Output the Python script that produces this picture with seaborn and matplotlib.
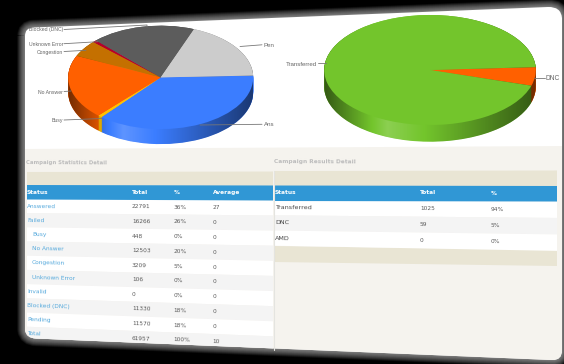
import numpy as np
import matplotlib
matplotlib.use("Agg")
import matplotlib.pyplot as plt
from matplotlib.patches import PathPatch, Polygon
from matplotlib.path import Path
import seaborn as sns

# ---- data ----
call_labels = ["Ans", "Busy", "No Answer", "Congestion", "Unknown Error", "Blocked (DNC)", "Pen"]
call_values = [22791, 448, 12503, 3209, 400, 11330, 11570]
call_colors = ["#3b7dff", "#ffc000", "#ff6000", "#c47000", "#b8002a", "#5c5c5c", "#cccccc"]
result_labels = ["DNC", "Transferred"]
result_values = [59, 1025]
result_colors = ["#ff6000", "#73c52c"]

stat_header = ["Status", "Total", "%", "Average"]
stat_status = ["Answered", "Failed", "Busy", "No Answer", "Congestion", "Unknown Error",
               "Invalid", "Blocked (DNC)", "Pending", "Total"]
stat_total = ["22791", "16266", "448", "12503", "3209", "106", "0", "11330", "11570", "61957"]
stat_pct = ["36%", "26%", "0%", "20%", "5%", "0%", "0%", "18%", "18%", "100%"]
stat_avg = ["27", "0", "0", "0", "0", "0", "0", "0", "0", "10"]
stat_indented = ["Busy", "No Answer", "Congestion", "Unknown Error"]

res_header = ["Status", "Total", "%"]
res_status = ["Transferred", "DNC", "AMD"]
res_total = ["1025", "59", "0"]
res_pct = ["94%", "5%", "0%"]

W, H = 564, 364
sns.set_theme(style="white")
plt.rcParams["font.family"] = ["DejaVu Sans"]
fig = plt.figure(figsize=(W / 100, H / 100), dpi=100, facecolor="black")

base = fig.add_axes([0, 0, 1, 1], zorder=0)
base.set_xlim(0, W); base.set_ylim(H, 0); base.axis("off")
over = fig.add_axes([0, 0, 1, 1], zorder=5)
over.set_xlim(0, W); over.set_ylim(H, 0); over.axis("off"); over.patch.set_alpha(0)

# ---- panel ----
M, L, C = Path.MOVETO, Path.LINETO, Path.CURVE3
verts = [(25, 36), (25, 28), (33, 27.5), (548, 7), (561, 6.5), (562, 18), (562, 350), (562, 360.5), (552, 360),
         (36, 338.5), (26, 338), (25, 330), (25, 36)]
codes = [M, C, C, L, C, C, L, C, C, L, C, C, L]
panel_path = Path(verts, codes)
for w in np.arange(16, 0, -0.5):
    base.add_patch(PathPatch(panel_path, fc="none", ec="white", lw=w * 0.72, alpha=0.022, zorder=1))
panel = PathPatch(panel_path, fc="white", ec="none", zorder=2)
base.add_patch(panel)


def poly(pts, color, z=3):
    p = Polygon(pts, closed=True, fc=color, ec="none", zorder=z)
    base.add_patch(p)
    p.set_clip_path(panel)
    return p


poly([(20, 149), (566, 146), (566, 365), (20, 345)], "#f5f3ee")
# cream bands
poly([(27, 172), (273, 171.5), (273, 186), (27, 185)], "#e9e5d4", 4)
poly([(274, 171), (557, 170.5), (557, 186), (274, 186)], "#e9e5d4", 4)
poly([(274, 246), (557, 250), (557, 266), (274, 262)], "#e9e5d4", 4)

# left table geometry
X0, X1 = 26.0, 216.0


def yleft(x, i):
    a = 206 + 14.2 * i
    b = 207.5 + 14.9 * i
    return a + (x - X0) / (X1 - X0) * (b - a)


def rot_left(i):
    return -np.degrees(np.arctan((1.5 + 0.7 * i) / (X1 - X0)))


for i in range(10):
    c = "white" if i % 2 == 0 else "#f4f4f4"
    poly([(27, yleft(27, i - .5)), (273, yleft(273, i - .5)), (273, yleft(273, i + .5)), (27, yleft(27, i + .5))], c, 4)
poly([(27, 185), (273, 185.5), (273, 200.5), (27, 199.5)], "#3097d5", 5)
base.plot([273.5, 273.5], [171, 350], color="#e4e4e0", lw=0.8, zorder=6)

RX0, RX1 = 275.0, 498.0


def yright(x, i):
    a = 207.7 + 15.2 * i
    b = 209.3 + 16.2 * i
    return a + (x - RX0) / (RX1 - RX0) * (b - a)


for i in range(3):
    c = "white" if i % 2 == 0 else "#f4f4f4"
    poly([(274, yright(275, i - .5)), (557, yright(557, i - .5)), (557, yright(557, i + .5)), (274, yright(275, i + .5))], c, 4)
poly([(274, 185.5), (557, 186), (557, 201.5), (274, 201)], "#3097d5", 5)

FS = 4.2
TXT = "#5a5a5a"
LINK = "#55a9dc"
kw = dict(va="center", ha="left", rotation_mode="anchor", zorder=7, fontsize=FS)

for x, t, y in zip([27, 132, 174, 213], stat_header, [192, 192, 192.3, 192.6]):
    over.text(x, y, t, color="white", fontweight="bold", **kw)
for x, t, y in zip([275, 420, 491], res_header, [192.5, 193, 193.2]):
    over.text(x, y, t, color="white", fontweight="bold", **kw)

for i, (s, t, p, a) in enumerate(zip(stat_status, stat_total, stat_pct, stat_avg)):
    r = rot_left(i)
    x = 32 if s in stat_indented else 27
    over.text(x, yleft(x, i), s, color=LINK, rotation=r, **kw)
    over.text(132, yleft(132, i), t, color=TXT, rotation=r, **kw)
    over.text(173.5, yleft(173.5, i), p, color=TXT, rotation=r, **kw)
    over.text(212.5, yleft(212.5, i), a, color=TXT, rotation=r, **kw)

for i, (s, t, p) in enumerate(zip(res_status, res_total, res_pct)):
    r = -np.degrees(np.arctan((1.6 + i) / (RX1 - RX0)))
    over.text(275, yright(275, i), s, color="#444444", rotation=r, va="center", ha="left",
              rotation_mode="anchor", zorder=7, fontsize=4.6)
    over.text(420, yright(420, i), t, color=TXT, rotation=r, **kw)
    over.text(491, yright(491, i), p, color=TXT, rotation=r, **kw)

over.text(26, 163, "Campaign Statistics Detail", color="#bdbdbd", fontweight="bold", fontsize=3.9, va="center",
          rotation=-0.3, rotation_mode="anchor")
over.text(274, 162, "Campaign Results Detail", color="#bdbdbd", fontweight="bold", fontsize=4.2, va="center",
          rotation=-0.3, rotation_mode="anchor")


# ---- 3D pies ----
def pie3d(values, colors, startangle, cx, cy, rx, ry, depth):
    pad = 4
    ax = fig.add_axes([(cx - rx - pad) / W, 1 - (cy + ry + depth + pad) / H,
                       (2 * rx + 2 * pad) / W, (2 * ry + depth + 2 * pad) / H], zorder=2)
    ax.patch.set_alpha(0)
    d = depth / ry
    for k in np.linspace(d, 0.0, int(depth) * 2 + 1):
        ax.pie(values, colors=colors, startangle=startangle, counterclock=False,
               center=(0, -k), radius=1, wedgeprops=dict(linewidth=0))
    top, _ = ax.pie(values, colors=colors, startangle=startangle, counterclock=False,
                    center=(0, 0), radius=1, wedgeprops=dict(linewidth=0))
    for w in top:
        w.set_zorder(3)
    xs = np.linspace(-1, 1, 256)
    v = np.interp(xs, [-1, -0.4, 1], [-0.55, 0.18, -0.55])
    rgba = np.zeros((1, 256, 4))
    rgba[0, :, :3] = (v[:, None] > 0).astype(float)
    rgba[0, :, 3] = np.abs(v)
    im = ax.imshow(rgba, extent=(-1, 1, -1 - d, 1), aspect="auto", zorder=2, interpolation="bilinear")
    t = np.linspace(0, np.pi, 120)
    outline = np.r_[np.c_[np.cos(t), np.sin(t)], np.c_[np.cos(t + np.pi), np.sin(t + np.pi) - d]]
    im.set_clip_path(Path(outline), ax.transData)
    ax.set_aspect("auto")
    ax.set_xlim(-1 - pad / rx, 1 + pad / rx)
    ax.set_ylim(-1 - d - pad / ry, 1 + pad / ry)
    return ax


pie3d(call_values, sns.color_palette(call_colors), 2, 160.7, 77.4, 92.5, 51.7, 15)
pie3d(result_values, sns.color_palette(result_colors), 3, 430, 70, 105.8, 55, 16.7)

# ---- labels with leader lines ----
LC = "#777777"
PF = ["Liberation Sans"]
call_label_map = dict(zip(call_labels, call_labels))
left_leaders = [
    ("Blocked (DNC)", 30, [(64, 29.5), (147, 25), (147, 27)]),
    ("Unknown Error", 44, [(64, 43.7), (98, 41.7)]),
    ("Congestion", 52.5, [(64, 51.5), (86, 50.3)]),
    ("No Answer", 92, [(64, 91.5), (71, 91)]),
    ("Busy", 120.5, [(64, 120), (102, 118.5)]),
]
for name, y, pts in left_leaders:
    over.text(63, y, call_label_map[name], ha="right", va="center", fontsize=3.7, color="#666666", family=PF)
    over.plot(*zip(*pts), color=LC, lw=0.6)
right_leaders = [
    ("Pen", 45.5, [(240, 46.5), (262, 44.8)]),
    ("Ans", 124.5, [(200, 125), (262, 124.3)]),
]
for name, y, pts in right_leaders:
    over.text(264, y, call_label_map[name], ha="left", va="center", fontsize=4.4, color="#666666", family=PF)
    over.plot(*zip(*pts), color=LC, lw=0.6)
over.text(317, 64.3, result_labels[1], ha="right", va="center", fontsize=4.4, color="#666666", family=PF)
over.plot([318, 326], [63, 63], color=LC, lw=0.6)
over.text(545.5, 78, result_labels[0], ha="left", va="center", fontsize=4.8, color="#666666", family=PF)
over.plot([534, 545], [78, 78], color=LC, lw=0.6)

fig.savefig("out.png", dpi=100, facecolor="black")
